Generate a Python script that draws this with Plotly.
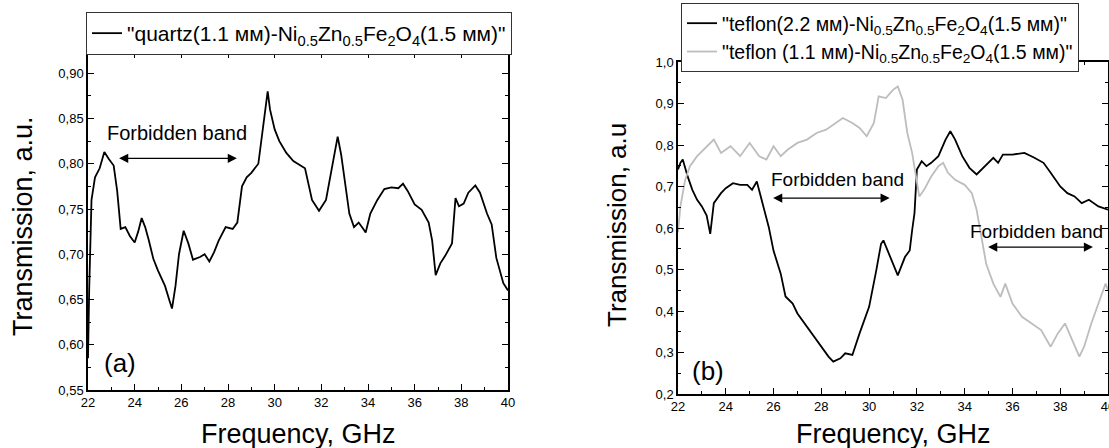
import plotly.graph_objects as go

# ---------------- data ----------------
freq_quartz = [22.0, 22.05, 22.15, 22.3, 22.5, 22.7, 22.9, 23.1, 23.25, 23.4, 23.6, 23.8, 24.0, 24.15,
               24.3, 24.45, 24.6, 24.8, 25.0, 25.3, 25.5, 25.6, 25.75, 25.9, 26.1, 26.3, 26.5, 26.8,
               27.0, 27.2, 27.4, 27.6, 27.9, 28.2, 28.4, 28.6, 28.8, 29.0, 29.3, 29.5, 29.6, 29.7,
               29.8, 29.9, 30.0, 30.2, 30.5, 30.8, 31.0, 31.3, 31.6, 31.9, 32.2, 32.5, 32.7, 32.85,
               33.0, 33.2, 33.4, 33.6, 33.8, 33.9, 34.1, 34.4, 34.7, 35.0, 35.3, 35.5, 35.7, 36.0,
               36.3, 36.6, 36.75, 36.9, 37.1, 37.3, 37.6, 37.75, 37.9, 38.1, 38.3, 38.6, 38.8, 39.1,
               39.3, 39.5, 39.8, 40.0]
trans_quartz = [0.585, 0.66, 0.76, 0.785, 0.795, 0.813, 0.805, 0.798, 0.77, 0.728, 0.73, 0.72, 0.713, 0.725,
                0.74, 0.73, 0.716, 0.695, 0.682, 0.665, 0.648, 0.64, 0.665, 0.70, 0.726, 0.712, 0.694, 0.697,
                0.700, 0.692, 0.702, 0.715, 0.73, 0.728, 0.735, 0.775, 0.785, 0.79, 0.80, 0.84, 0.865, 0.88,
                0.86, 0.85, 0.838, 0.825, 0.812, 0.803, 0.80, 0.795, 0.76, 0.748, 0.76, 0.80, 0.83, 0.81,
                0.78, 0.745, 0.73, 0.735, 0.728, 0.724, 0.745, 0.76, 0.772, 0.774, 0.773, 0.778, 0.77, 0.755,
                0.749, 0.735, 0.715, 0.677, 0.69, 0.698, 0.712, 0.762, 0.753, 0.756, 0.768, 0.776, 0.768, 0.745,
                0.733, 0.696, 0.668, 0.66]

freq_teflon22 = [22.0, 22.1, 22.2, 22.4, 22.6, 22.8, 23.0, 23.2, 23.35, 23.5, 23.8, 24.0, 24.3, 24.6,
                 24.9, 25.1, 25.3, 25.5, 25.7, 25.8, 26.0, 26.3, 26.5, 26.8, 27.0, 27.3, 27.6, 28.0,
                 28.3, 28.5, 28.8, 29.0, 29.3, 29.6, 30.0, 30.3, 30.5, 30.6, 30.9, 31.2, 31.5, 31.7,
                 31.8, 31.9, 32.0, 32.2, 32.4, 32.6, 32.9, 33.2, 33.4, 33.6, 33.9, 34.2, 34.5, 34.7,
                 35.0, 35.2, 35.4, 35.6, 36.0, 36.5, 36.9, 37.3, 37.6, 38.0, 38.3, 38.6, 38.9, 39.2,
                 39.6, 40.0]
trans_teflon22 = [0.741, 0.757, 0.765, 0.725, 0.692, 0.668, 0.652, 0.63, 0.586, 0.66, 0.684, 0.696, 0.708, 0.704,
                  0.704, 0.692, 0.712, 0.668, 0.628, 0.602, 0.545, 0.49, 0.435, 0.418, 0.394, 0.37, 0.346, 0.314,
                  0.29, 0.278, 0.286, 0.298, 0.294, 0.346, 0.41, 0.498, 0.562, 0.57, 0.53, 0.486, 0.53, 0.546,
                  0.594, 0.636, 0.741, 0.761, 0.749, 0.757, 0.773, 0.813, 0.833, 0.813, 0.773, 0.745, 0.729, 0.741,
                  0.757, 0.769, 0.757, 0.777, 0.777, 0.781, 0.77, 0.757, 0.733, 0.70, 0.684, 0.676, 0.66, 0.668,
                  0.652, 0.644]

freq_teflon11 = [22.0, 22.1, 22.3, 22.5, 22.8, 23.2, 23.5, 23.8, 24.2, 24.6, 25.0, 25.4, 25.7, 26.0,
                 26.3, 26.6, 27.0, 27.4, 27.8, 28.2, 28.6, 28.9, 29.3, 29.6, 29.9, 30.2, 30.4, 30.7,
                 31.0, 31.2, 31.4, 31.6, 31.8, 32.0, 32.1, 32.3, 32.6, 32.9, 33.1, 33.3, 33.6, 34.0,
                 34.3, 34.5, 34.7, 34.9, 35.2, 35.5, 35.7, 36.0, 36.4, 36.8, 37.2, 37.6, 37.9, 38.2,
                 38.5, 38.8, 39.0, 39.3, 39.6, 39.9, 40.0]
trans_teflon11 = [0.59, 0.652, 0.716, 0.749, 0.773, 0.797, 0.813, 0.781, 0.797, 0.773, 0.805, 0.773, 0.765, 0.797,
                  0.773, 0.789, 0.805, 0.813, 0.829, 0.837, 0.853, 0.865, 0.853, 0.841, 0.821, 0.853, 0.917, 0.913,
                  0.933, 0.941, 0.909, 0.829, 0.781, 0.716, 0.676, 0.692, 0.724, 0.749, 0.757, 0.733, 0.716, 0.704,
                  0.684, 0.644, 0.578, 0.514, 0.466, 0.434, 0.466, 0.418, 0.386, 0.37, 0.354, 0.314, 0.346, 0.37,
                  0.33, 0.29, 0.314, 0.37, 0.418, 0.466, 0.45]

x_ticks = [22, 24, 26, 28, 30, 32, 34, 36, 38, 40]
y_ticks_a = [0.55, 0.60, 0.65, 0.70, 0.75, 0.80, 0.85, 0.90]
y_ticks_b = [0.2, 0.3, 0.4, 0.5, 0.6, 0.7, 0.8, 0.9, 1.0]
y_labels_a = ["0,55", "0,60", "0,65", "0,70", "0,75", "0,80", "0,85", "0,90"]
y_labels_b = ["0,2", "0,3", "0,4", "0,5", "0,6", "0,7", "0,8", "0,9", "1,0"]

name_quartz = '"quartz(1.1 мм)-Ni<sub>0.5</sub>Zn<sub>0.5</sub>Fe<sub>2</sub>O<sub>4</sub>(1.5 мм)"'
name_t22 = '"teflon(2.2 мм)-Ni<sub>0.5</sub>Zn<sub>0.5</sub>Fe<sub>2</sub>O<sub>4</sub>(1.5 мм)"'
name_t11 = '"teflon (1.1 мм)-Ni<sub>0.5</sub>Zn<sub>0.5</sub>Fe<sub>2</sub>O<sub>4</sub>(1.5 мм)"'

# ---------------- figure ----------------
W, H = 1109, 448
FONT = "Liberation Sans, Arial, sans-serif"

fig = go.Figure()
fig.add_trace(go.Scatter(x=freq_quartz, y=trans_quartz, mode="lines", name=name_quartz,
                         line=dict(color="black", width=1.8), xaxis="x", yaxis="y", legend="legend"))
fig.add_trace(go.Scatter(x=freq_teflon22, y=trans_teflon22, mode="lines", name=name_t22,
                         line=dict(color="black", width=1.8), xaxis="x2", yaxis="y2", legend="legend2"))
fig.add_trace(go.Scatter(x=freq_teflon11, y=trans_teflon11, mode="lines", name=name_t11,
                         line=dict(color="#bdbdbd", width=1.8), xaxis="x2", yaxis="y2", legend="legend2"))


def px_x(p):
    return p / W


def px_y(p):
    return 1 - p / H


axis_common = dict(showgrid=False, zeroline=False, showline=True, linecolor="black", linewidth=1.5,
                   mirror="allticks", ticks="inside", ticklen=6, tickwidth=1.2, tickcolor="black",
                   automargin=False, ticklabeloverflow="allow",
                   tickfont=dict(family=FONT, size=13, color="black"))

fig.update_layout(
    template="none",
    width=W, height=H, margin=dict(l=0, r=0, t=0, b=0, pad=0, autoexpand=False),
    paper_bgcolor="white", plot_bgcolor="white",
    font=dict(family=FONT, color="black"),
    xaxis=dict(domain=[px_x(88), px_x(508)], range=[22, 40], tickvals=x_ticks,
               minor=dict(dtick=1, ticks="inside", ticklen=3, tickcolor="black"),
               anchor="y", **axis_common),
    yaxis=dict(domain=[px_y(390), px_y(52)], range=[0.55, 0.9235], tickvals=y_ticks_a, ticktext=y_labels_a,
               minor=dict(dtick=0.025, tick0=0.55, ticks="inside", ticklen=3, tickcolor="black"),
               anchor="x", **axis_common),
    xaxis2=dict(domain=[px_x(678), px_x(1108)], range=[22, 40], tickvals=x_ticks,
                minor=dict(dtick=1, ticks="inside", ticklen=3, tickcolor="black"),
                anchor="y2", **axis_common),
    yaxis2=dict(domain=[px_y(394), px_y(62)], range=[0.2, 1.0], tickvals=y_ticks_b, ticktext=y_labels_b,
                minor=dict(dtick=0.05, tick0=0.2, ticks="inside", ticklen=3, tickcolor="black"),
                anchor="x2", **axis_common),
    legend=dict(x=px_x(86), y=px_y(12), xanchor="left", yanchor="top", bgcolor="white",
                bordercolor="#333", borderwidth=1, font=dict(family=FONT, size=21, color="black")),
    legend2=dict(x=px_x(681), y=px_y(3), xanchor="left", yanchor="top", bgcolor="white",
                 bordercolor="#333", borderwidth=1, tracegroupgap=0,
                 font=dict(family=FONT, size=19.5, color="black")),
    showlegend=True,
)

ann = []
# axis titles
ann.append(dict(text="Frequency, GHz", x=px_x(298), y=px_y(434), xref="paper", yref="paper",
                showarrow=False, font=dict(size=27), xanchor="center", yanchor="middle"))
ann.append(dict(text="Frequency, GHz", x=px_x(893), y=px_y(434), xref="paper", yref="paper",
                showarrow=False, font=dict(size=27), xanchor="center", yanchor="middle"))
ann.append(dict(text="Transmission, a.u.", x=px_x(23), y=px_y(226), xref="paper", yref="paper",
                showarrow=False, font=dict(size=27), textangle=-90, xanchor="center", yanchor="middle"))
ann.append(dict(text="Transmission, a.u", x=px_x(617), y=px_y(225), xref="paper", yref="paper",
                showarrow=False, font=dict(size=26), textangle=-90, xanchor="center", yanchor="middle"))
# panel labels
ann.append(dict(text="(a)", x=px_x(120), y=px_y(363), xref="paper", yref="paper",
                showarrow=False, font=dict(size=26), xanchor="center", yanchor="middle"))
ann.append(dict(text="(b)", x=px_x(708), y=px_y(371), xref="paper", yref="paper",
                showarrow=False, font=dict(size=26), xanchor="center", yanchor="middle"))
# forbidden band labels
ann.append(dict(text="Forbidden band", x=px_x(177), y=px_y(133), xref="paper", yref="paper",
                showarrow=False, font=dict(size=20), xanchor="center", yanchor="middle"))
ann.append(dict(text="Forbidden band", x=px_x(837), y=px_y(179), xref="paper", yref="paper",
                showarrow=False, font=dict(size=19), xanchor="center", yanchor="middle"))
ann.append(dict(text="Forbidden band", x=px_x(1036), y=px_y(231), xref="paper", yref="paper",
                showarrow=False, font=dict(size=19), xanchor="center", yanchor="middle"))

# double-headed arrows (data coordinates)
arrows = [("x", "y", 23.27, 28.38, 0.806),
          ("x2", "y2", 25.92, 30.86, 0.672),
          ("x2", "y2", 34.92, 39.37, 0.554)]
for xr, yr, x0, x1, yv in arrows:
    ann.append(dict(x=x1, y=yv, ax=x0, ay=yv, xref=xr, yref=yr, axref=xr, ayref=yr, text="",
                    showarrow=True, arrowhead=2, startarrowhead=2, arrowside="end+start",
                    arrowsize=1.4, startarrowsize=1.4, arrowwidth=1.3, arrowcolor="black"))

fig.update_layout(annotations=ann)
fig.write_html("out.html", config={"displayModeBar": False},
               post_script="document.body.style.margin='0px';document.body.style.overflow='hidden';")
